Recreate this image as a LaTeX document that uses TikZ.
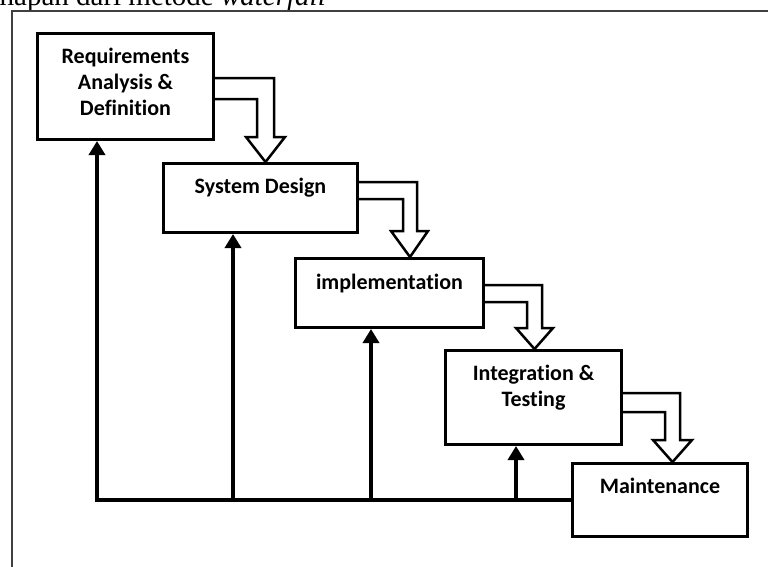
\documentclass[tikz,border=0pt]{standalone}
\usepackage{fontspec}
\setmainfont{Carlito}[Ligatures = {NoCommon, NoContextual}]
\newfontfamily\captionserif{Liberation Serif}
\usetikzlibrary{arrows.meta,positioning,calc}

\begin{document}
\begin{tikzpicture}[
		x = 1pt, y = -1pt,
		phase/.style = {rectangle, draw = black, line width = 3pt, inner sep = 0pt, anchor = north west},
		phasetext/.style = {inner sep = 0pt, align = center, font = \bfseries\fontsize{22}{26}\selectfont},
		flow/.style = {draw = black, line width = 2.5pt, line join = miter},
		back/.style = {draw = black, line width = 4pt, -{Triangle[width = 16pt, length = 14pt]}}
		]
\path[use as bounding box, clip] (0,0) rectangle (768,566);

\node[anchor = base east, inner sep = 0pt, font = \captionserif\fontsize{29}{34}\selectfont] (caption) at (326,5.5) {hapan dari metode \textit{waterfall}};
\draw[line width = 1.5pt, black!75] (12,580) -- (12,11) -- (780,11);

\node[phase, minimum width = 176pt, minimum height = 106pt] (req) at (36,32) {};
	\node[phasetext, below = 16pt of req.north] (reqtext) {Requirements\\Analysis \&\\Definition};
\node[phase, minimum width = 194pt, minimum height = 69pt] (sysd) at (162,162) {};
	\node[phasetext, below = 16pt of sysd.north] (sysdtext) {System Design};
\node[phase, minimum width = 188pt, minimum height = 69pt] (impl) at (294,257) {};
	\node[phasetext, below = 17pt of impl.north] (impltext) {implementation};
\node[phase, minimum width = 176pt, minimum height = 94pt] (integ) at (444,349) {};
	\node[phasetext, below = 16pt of integ.north] (integtext) {Integration \&\\Testing};
\node[phase, minimum width = 175pt, minimum height = 73pt] (maint) at (571,462) {};
	\node[phasetext, below = 16pt of maint.north] (mainttext) {Maintenance};

\draw[flow] (req.east |- 0,78) -- (274,78) -- (274,137) -- (285,137) -- (265.5,0 |- sysd.north) -- (246,137) -- (257,137) -- (257,99) -- (req.east |- 0,99);
\draw[flow] (sysd.east |- 0,182) -- (417,182) -- (417,231) -- (428,231) -- (410,0 |- impl.north) -- (391,231) -- (403,231) -- (403,199) -- (sysd.east |- 0,199);
\draw[flow] (impl.east |- 0,285) -- (542,285) -- (542,328) -- (553,328) -- (534.5,0 |- integ.north) -- (516,328) -- (527,328) -- (527,302) -- (impl.east |- 0,302);
\draw[flow] (integ.east |- 0,393) -- (680,393) -- (680,440) -- (692,440) -- (672.5,0 |- maint.north) -- (653,440) -- (665,440) -- (665,412) -- (integ.east |- 0,412);

\draw[back] (maint.west |- 0,500) -- (97,500) -- (97,0 |- req.south);
\draw[back] (233,500) -- (233,0 |- sysd.south);
\draw[back] (371,500) -- (371,0 |- impl.south);
\draw[back] (516,500) -- (516,0 |- integ.south);

\end{tikzpicture}
\end{document}
